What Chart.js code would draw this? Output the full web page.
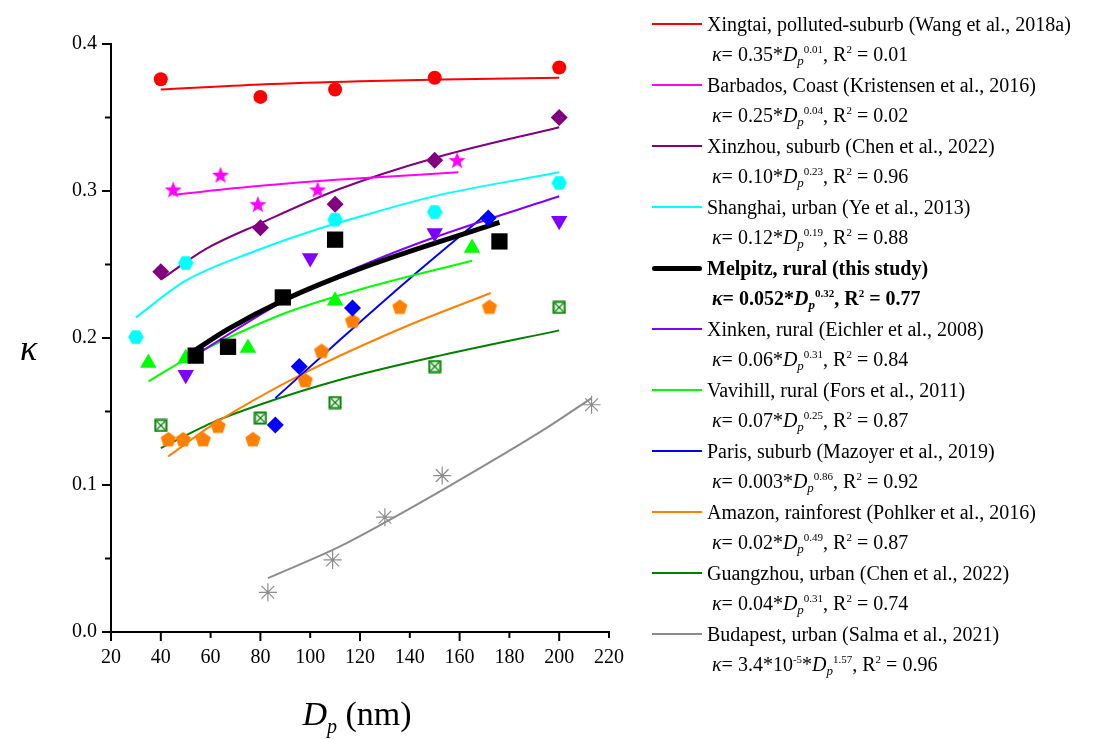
<!DOCTYPE html>
<html>
<head>
<meta charset="utf-8">
<script src="https://cdn.jsdelivr.net/npm/chart.js@4.4.0/dist/chart.umd.min.js"></script>
<style>
  html, body { margin: 0; padding: 0; background: #fff; }
  #wrap { position: relative; width: 1094px; height: 740px; font-family: "Liberation Serif", "Times New Roman", serif; color: #000; }
  #myChart { position: absolute; left: 0; top: 0; }
  .ytitle { position: absolute; left: 20px; top: 328px; font-size: 36px; font-style: italic; line-height: 40px; }
  .xtitle { position: absolute; left: 0; width: 714px; top: 694px; text-align: center; font-size: 34px; line-height: 40px; }
  .xtitle sub { font-size: 20px; vertical-align: -8px; line-height: 0; font-style: italic; }
  .swatch { position: absolute; left: 652px; width: 50px; }
  .lab { position: absolute; left: 707px; font-size: 20px; line-height: 24px; white-space: nowrap; }
  .eq { position: absolute; left: 712px; font-size: 20px; line-height: 24px; white-space: nowrap; }
  .eq sub { font-size: 13px; font-style: italic; vertical-align: -4px; line-height: 0; }
  .eq sup { font-size: 11px; vertical-align: 8px; line-height: 0; }
  .bold { font-weight: bold; }
</style>
</head>
<body>
<div id="wrap">
  <canvas id="myChart" width="1094" height="740"></canvas>
  <div class="ytitle">κ</div>
  <div class="xtitle"><i>D</i><sub>p</sub> (nm)</div>
  <div id="legend"></div>
</div>
<script>
const xingtaiX = [40, 80, 110, 150, 200];
const xingtaiY = [0.376, 0.364, 0.369, 0.377, 0.384];
const xingtaiFitX = [40, 80, 120, 160, 200];
const xingtaiFitY = [0.369, 0.3725, 0.3747, 0.376, 0.377];

const barbadosX = [45, 64, 79, 103, 159];
const barbadosY = [0.301, 0.311, 0.291, 0.301, 0.321];
const barbadosFitX = [45, 80, 112, 159.5];
const barbadosFitY = [0.2975, 0.3035, 0.3078, 0.3127];

const xinzhouX = [40, 80, 110, 150, 200];
const xinzhouY = [0.245, 0.275, 0.291, 0.321, 0.35];
const xinzhouFitX = [40, 58, 80, 112, 150, 200];
const xinzhouFitY = [0.2397, 0.2605, 0.278, 0.3015, 0.3225, 0.3434];

const shanghaiX = [30, 50, 110, 150, 200];
const shanghaiY = [0.2006, 0.251, 0.2805, 0.2857, 0.3055];
const shanghaiFitX = [30, 50, 78.5, 101, 120, 150, 200];
const shanghaiFitY = [0.214, 0.239, 0.2595, 0.273, 0.2826, 0.2965, 0.3127];

const melpitzX = [54, 67, 89, 110, 176];
const melpitzY = [0.188, 0.194, 0.2276, 0.2669, 0.2657];
const melpitzFitX = [53, 67, 89, 120, 176];
const melpitzFitY = [0.1908, 0.206, 0.2255, 0.2472, 0.2787];

const xinkenX = [50, 100, 150, 200];
const xinkenY = [0.175, 0.2544, 0.2714, 0.2798];
const xinkenFitX = [52, 89, 120, 150, 200];
const xinkenFitY = [0.1863, 0.2245, 0.2487, 0.2685, 0.2964];

const vavihillX = [35, 50, 75, 110, 165];
const vavihillY = [0.183, 0.1863, 0.1932, 0.2254, 0.2612];
const vavihillFitX = [35, 50, 89, 120, 165];
const vavihillFitY = [0.1704, 0.1855, 0.2163, 0.233, 0.2526];

const parisX = [86, 95.6, 117, 171.5];
const parisY = [0.1409, 0.1806, 0.2204, 0.2817];
const parisFitX = [86, 112, 140, 171.6];
const parisFitY = [0.1591, 0.1988, 0.2405, 0.2855];

const amazonX = [43, 49, 57, 63, 77, 98, 104.6, 117, 136, 172];
const amazonY = [0.1307, 0.1307, 0.1307, 0.1398, 0.1307, 0.1709, 0.1908, 0.2113, 0.2208, 0.2208];
const amazonFitX = [43, 60, 96, 136, 172.5];
const amazonFitY = [0.1194, 0.14, 0.1747, 0.2061, 0.2306];

const guangzhouX = [40, 80, 110, 150, 200];
const guangzhouY = [0.1405, 0.1455, 0.1561, 0.1806, 0.2208];
const guangzhouFitX = [40, 62, 80, 112, 150, 200];
const guangzhouFitY = [0.1251, 0.1434, 0.1548, 0.1716, 0.1872, 0.2052];

const budapestX = [83, 109, 130, 153, 213];
const budapestY = [0.027, 0.049, 0.0781, 0.1064, 0.1546];
const budapestFitX = [83, 112, 130, 153, 194, 213];
const budapestFitY = [0.0366, 0.0583, 0.0745, 0.0965, 0.1378, 0.1591];

const seriesNames = [
	"Xingtai, polluted-suburb (Wang et al., 2018a)",
	"Barbados, Coast (Kristensen et al., 2016)",
	"Xinzhou, suburb (Chen et al., 2022)",
	"Shanghai, urban (Ye et al., 2013)",
	"Melpitz, rural (this study)",
	"Xinken, rural (Eichler et al., 2008)",
	"Vavihill, rural (Fors et al., 2011)",
	"Paris, suburb (Mazoyer et al., 2019)",
	"Amazon, rainforest (Pohlker et al., 2016)",
	"Guangzhou, urban (Chen et al., 2022)",
	"Budapest, urban (Salma et al., 2021)",
];
const coefLabels = ["0.35", "0.25", "0.10", "0.12", "0.052", "0.06", "0.07", "0.003", "0.02", "0.04", "3.4*10^-5"];
const expLabels = ["0.01", "0.04", "0.23", "0.19", "0.32", "0.31", "0.25", "0.86", "0.49", "0.31", "1.57"];
const r2Labels = ["0.01", "0.02", "0.96", "0.88", "0.77", "0.84", "0.87", "0.92", "0.87", "0.74", "0.96"];

const pointX = [xingtaiX, barbadosX, xinzhouX, shanghaiX, melpitzX, xinkenX, vavihillX, parisX, amazonX, guangzhouX, budapestX];
const pointY = [xingtaiY, barbadosY, xinzhouY, shanghaiY, melpitzY, xinkenY, vavihillY, parisY, amazonY, guangzhouY, budapestY];
const fitX = [xingtaiFitX, barbadosFitX, xinzhouFitX, shanghaiFitX, melpitzFitX, xinkenFitX, vavihillFitX, parisFitX, amazonFitX, guangzhouFitX, budapestFitX];
const fitY = [xingtaiFitY, barbadosFitY, xinzhouFitY, shanghaiFitY, melpitzFitY, xinkenFitY, vavihillFitY, parisFitY, amazonFitY, guangzhouFitY, budapestFitY];

const colors = ["#ff0000", "#ff00ff", "#800080", "#00ffff", "#000000", "#8000ff", "#00ff00", "#0000ff", "#ff8000", "#008000", "#8c8c8c"];
const MELPITZ = 4;

// custom marker shapes drawn on small canvases
function makeMarker(size, draw) {
	const c = document.createElement("canvas");
	c.width = size;
	c.height = size;
	draw(c.getContext("2d"), size / 2);
	return c;
}
function polygon(g, c, r, n, start) {
	g.beginPath();
	for (let i = 0; i < n; i++) {
		const a = start + (i * 2 * Math.PI) / n;
		g.lineTo(c + r * Math.cos(a), c + r * Math.sin(a));
	}
	g.closePath();
}
const starMark = makeMarker(20, (g, c) => {
	g.beginPath();
	for (let i = 0; i < 10; i++) {
		const r = i % 2 === 0 ? 9 : 3.7;
		const a = -Math.PI / 2 + (i * Math.PI) / 5;
		g.lineTo(c + r * Math.cos(a), c + 0.8 + r * Math.sin(a));
	}
	g.closePath();
	g.fillStyle = colors[1];
	g.fill();
});
const hexMark = makeMarker(18, (g, c) => {
	polygon(g, c, 7.8, 6, 0);
	g.fillStyle = colors[3];
	g.fill();
});
const pentMark = makeMarker(18, (g, c) => {
	polygon(g, c, 8, 5, -Math.PI / 2);
	g.fillStyle = colors[8];
	g.fill();
});
const boxMark = makeMarker(14, (g, c) => {
	g.fillStyle = colors[9];
	g.fillRect(0.5, 0.5, 13, 13);
	g.fillStyle = "#fff";
	g.fillRect(2.5, 2.5, 9, 9);
	g.strokeStyle = colors[9];
	g.lineWidth = 1.2;
	g.beginPath();
	g.moveTo(3, 3); g.lineTo(11, 11);
	g.moveTo(11, 3); g.lineTo(3, 11);
	g.stroke();
});

const markers = [
	{ style: "circle", r: 7 },
	{ style: starMark, r: 9 },
	{ style: "rectRot", r: 8.5 },
	{ style: hexMark, r: 8 },
	{ style: "rect", r: 11.5 },
	{ style: "triangle", r: 9.5, rot: 180 },
	{ style: "triangle", r: 9.5 },
	{ style: "rectRot", r: 8.5 },
	{ style: pentMark, r: 8 },
	{ style: boxMark, r: 7 },
	{ style: "star", r: 9, bw: 1.2 },
];

const datasets = [];
pointX.forEach((xs, i) => {
	datasets.push({
		label: seriesNames[i] + " data",
		data: xs.map((x, j) => ({ x: x, y: pointY[i][j] })),
		showLine: false,
		pointStyle: markers[i].style,
		pointRadius: markers[i].r,
		rotation: markers[i].rot || 0,
		backgroundColor: colors[i],
		borderColor: colors[i],
		pointBorderWidth: markers[i].bw || 0,
		order: 0,
	});
	datasets.push({
		label: seriesNames[i],
		data: fitX[i].map((x, j) => ({ x: x, y: fitY[i][j] })),
		showLine: true,
		pointRadius: 0,
		borderColor: colors[i],
		borderWidth: i === MELPITZ ? 5 : 2,
		cubicInterpolationMode: "monotone",
		order: i === MELPITZ ? 1 : 2,
	});
});

// outward tick marks, long on labelled majors and short on minors
const tickMarks = {
	id: "tickMarks",
	afterDraw(chart) {
		const { ctx, chartArea } = chart;
		const xs = chart.scales.x;
		const ys = chart.scales.y;
		ctx.save();
		ctx.strokeStyle = "#000";
		ctx.lineWidth = 2;
		xs.ticks.forEach((t) => {
			const px = xs.getPixelForValue(t.value);
			const major = Math.round(t.value) % 40 === 0 || Math.round(t.value) === 20;
			ctx.beginPath();
			ctx.moveTo(px, chartArea.bottom);
			ctx.lineTo(px, chartArea.bottom + (major ? 9 : 6));
			ctx.stroke();
		});
		ys.ticks.forEach((t) => {
			const py = ys.getPixelForValue(t.value);
			const major = Math.round(t.value * 100) % 10 === 0;
			ctx.beginPath();
			ctx.moveTo(chartArea.left, py);
			ctx.lineTo(chartArea.left - (major ? 9 : 6), py);
			ctx.stroke();
		});
		ctx.restore();
	},
};

Chart.defaults.font.family = "'Liberation Serif', 'Times New Roman', serif";
Chart.defaults.font.size = 20;
Chart.defaults.color = "#000";

const ctx = document.getElementById("myChart").getContext("2d");
const myChart = new Chart(ctx, {
	type: "scatter",
	data: { datasets: datasets },
	options: {
		responsive: false,
		animation: false,
		layout: { padding: { left: 0, top: 44, right: 485, bottom: 68 } },
		plugins: { legend: { display: false }, tooltip: { enabled: false } },
		scales: {
			x: {
				type: "linear",
				min: 20,
				max: 220,
				afterFit: (scale) => { scale.height = 40; },
				ticks: { stepSize: 20, padding: 14, maxRotation: 0, autoSkip: false },
				grid: { display: false, drawTicks: false },
				border: { display: true, color: "#000", width: 2 },
			},
			y: {
				type: "linear",
				min: 0,
				max: 0.4,
				afterFit: (scale) => { scale.width = 111; },
				ticks: {
					stepSize: 0.05,
					padding: 14,
					autoSkip: false,
					callback: (v) => (Math.round(v * 100) % 10 === 0 ? v.toFixed(1) : ""),
				},
				grid: { display: false, drawTicks: false },
				border: { display: true, color: "#000", width: 2 },
			},
		},
	},
	plugins: [tickMarks],
});

// legend with fit equations
function coefHtml(c) {
	return c.replace(/\^(-?\d+)/, "<sup>$1</sup>");
}
const legend = document.getElementById("legend");
seriesNames.forEach((name, i) => {
	const center = 24 + 61 * i;
	const lw = i === MELPITZ ? 5 : 2.5;
	const sw = document.createElement("div");
	sw.className = "swatch";
	sw.style.top = center - lw / 2 + "px";
	sw.style.height = lw + "px";
	sw.style.background = colors[i];
	if (i === MELPITZ) sw.style.borderRadius = "3px";
	legend.appendChild(sw);

	const lab = document.createElement("div");
	lab.className = "lab" + (i === MELPITZ ? " bold" : "");
	lab.style.top = center - 12 + "px";
	lab.textContent = name;
	legend.appendChild(lab);

	const eq = document.createElement("div");
	eq.className = "eq" + (i === MELPITZ ? " bold" : "");
	eq.style.top = center + 18 + "px";
	eq.innerHTML = "<i>κ</i>= " + coefHtml(coefLabels[i]) + "*<i>D</i><sub>p</sub><sup>" + expLabels[i] +
		"</sup>, R<sup>2</sup> = " + r2Labels[i];
	legend.appendChild(eq);
});
</script>
</body>
</html>
